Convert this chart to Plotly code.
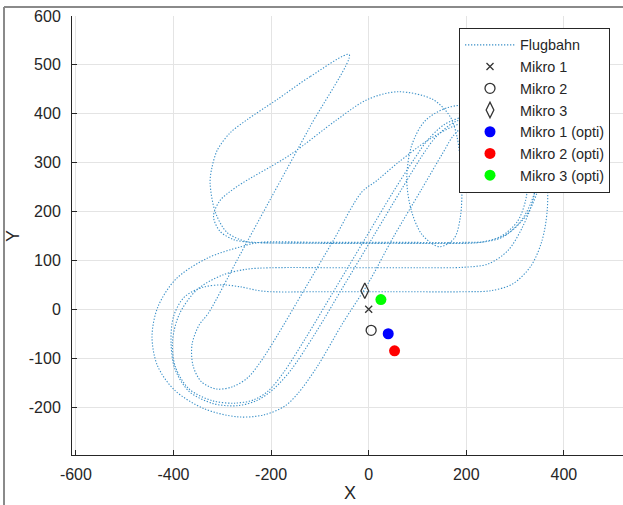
import plotly.graph_objects as go

# ---- data ----
path_pts = [
    # start and upper-left bulge
    (-40, 521), (-120, 476), (-188, 429), (-249, 388), (-284, 361), (-310, 326),
    (-321, 291), (-325, 259), (-314, 198), (-290, 157), (-249, 138), (-222, 136),
    # y~136 eastbound
    (-100, 136), (50, 136), (200, 136), (235, 138),
    # right loop A
    (272, 150), (305, 180), (322, 225), (326, 275), (315, 330), (290, 370),
    (250, 390), (210, 385), (175, 357), (152, 320),
    # diagonal down-left
    (108, 245), (49, 145), (0, 55), (-53, -28), (-106, -118), (-145, -172),
    # outer left loop
    (-172, -198), (-215, -216), (-268, -220), (-338, -203), (-398, -165),
    (-433, -115), (-444, -55), (-432, 5), (-395, 62), (-330, 105), (-262, 128), (-222, 137),
    # y~136 eastbound
    (-100, 137), (50, 137), (200, 137), (240, 139),
    # right loop B
    (285, 155), (325, 195), (348, 250), (350, 300), (335, 345), (300, 378),
    (250, 395), (200, 395), (155, 378), (120, 345),
    # diagonal down-left
    (95, 310), (50, 240), (-10, 140), (-70, 40), (-130, -60), (-175, -130), (-205, -166),
    # middle left loop
    (-235, -185), (-275, -192), (-320, -187), (-368, -163), (-396, -118), (-402, -65),
    (-388, -10), (-352, 40), (-300, 70), (-250, 82), (-200, 85),
    # y~85 eastbound
    (-50, 85), (100, 85), (195, 86),
    # central circle
    (245, 93), (285, 120), (315, 168), (338, 228), (342, 292), (322, 352), (280, 396),
    (220, 418), (160, 412), (115, 385), (88, 335), (78, 265), (88, 200), (110, 152),
    (145, 128), (175, 145), (188, 190),
    # big arc over the top
    (191, 250), (188, 300), (181, 353), (167, 394), (132, 429), (60, 445), (-3, 429),
    (-65, 388), (-161, 316), (-270, 251), (-305, 222), (-318, 190), (-305, 160),
    (-275, 142), (-235, 137),
    # y~136 eastbound
    (-100, 135), (50, 135), (200, 135), (230, 137),
    # right loop C
    (275, 148), (315, 185), (340, 240), (345, 300), (325, 350), (285, 383),
    (235, 395), (180, 385), (140, 355), (110, 315),
    # diagonal down-left
    (70, 250), (10, 150), (-50, 50), (-110, -50), (-160, -125), (-195, -163),
    # middle left loop again
    (-228, -186), (-268, -197), (-318, -193), (-368, -168), (-397, -122), (-405, -70),
    (-400, -15), (-378, 25), (-340, 45), (-300, 50), (-263, 46), (-216, 37),
    # y~36 eastbound
    (-100, 36), (50, 36), (200, 36), (250, 38),
    # outermost right loop
    (295, 52), (332, 88), (355, 140), (366, 205), (364, 275), (345, 340), (300, 382),
    (235, 392), (175, 375), (120, 345), (60, 300), (15, 262),
    # diagonal down-left
    (-14, 240), (-73, 140), (-132, 40), (-190, -58), (-222, -108), (-248, -140),
    # inner left loop
    (-278, -158), (-312, -163), (-343, -148), (-360, -115), (-362, -72), (-348, -33), (-328, -7),
    # straight leg back to start
    (-270, 100), (-200, 228), (-120, 374), (-40, 521),
]
path_x = [p[0] for p in path_pts]
path_y = [p[1] for p in path_pts]

mic_names = ["Mikro 1", "Mikro 2", "Mikro 3"]
mic_x = [0, 5, -8]
mic_y = [0, -43, 38]

opti_names = ["Mikro 1 (opti)", "Mikro 2 (opti)", "Mikro 3 (opti)"]
opti_x = [40, 53, 25]
opti_y = [-50, -85, 20]
opti_colors = ["#0000ff", "#ff0000", "#00ff00"]

x_ticks = [-600, -400, -200, 0, 200, 400, 600]
y_ticks = [-200, -100, 0, 100, 200, 300, 400, 500, 600]

# ---- figure ----
W, H = 623, 505
ML, MR, MT, MB = 72, 0, 16, 50
AX = "#262626"
FONT = "Liberation Sans, Arial, sans-serif"

fig = go.Figure()
fig.add_trace(go.Scatter(
    x=path_x, y=path_y, mode="lines", name="Flugbahn",
    line=dict(color="#3a90c8", width=1.1, dash="1.3px,1.7px", shape="spline", smoothing=0.9),
))
mic_symbols = ["x-thin-open", "circle-open", "diamond-tall-open"]
mic_sizes = [7, 10, 11]
for i in range(3):
    fig.add_trace(go.Scatter(
        x=[mic_x[i]], y=[mic_y[i]], mode="markers", name=mic_names[i],
        marker=dict(symbol=mic_symbols[i], size=mic_sizes[i], color="#333333",
                    line=dict(color="#333333", width=1.3)),
    ))
for i in range(3):
    fig.add_trace(go.Scatter(
        x=[opti_x[i]], y=[opti_y[i]], mode="markers", name=opti_names[i],
        marker=dict(symbol="circle", size=11, color=opti_colors[i]),
    ))

plot_w = W - ML - MR
plot_h = H - MT - MB
x0_px = 368.7 - ML          # pixel of x=0 inside plot
scale = 0.488
x_min = -x0_px / scale
x_max = x_min + plot_w / scale

fig.update_layout(
    width=W, height=H,
    margin=dict(l=ML, r=MR, t=MT, b=MB, pad=0),
    paper_bgcolor="white", plot_bgcolor="white",
    font=dict(family=FONT, size=14, color=AX),
    showlegend=True,
    legend=dict(
        x=(459 - ML) / plot_w, y=(H - MB - 28) / plot_h, xanchor="left", yanchor="top",
        bgcolor="white", bordercolor=AX, borderwidth=1,
        font=dict(family=FONT, size=14.4, color=AX), itemwidth=50,
        tracegroupgap=0,
    ),
    xaxis=dict(
        range=[x_min, x_max], tickvals=x_ticks, ticktext=[str(v) for v in x_ticks],
        showgrid=True, gridcolor="#e4e4e4", gridwidth=1, zeroline=False,
        showline=True, linecolor=AX, linewidth=1, ticks="inside", ticklen=5,
        tickcolor=AX, tickfont=dict(size=16, color=AX), ticklabelstandoff=5,
    ),
    yaxis=dict(
        range=[-298, 600], tickvals=y_ticks, ticktext=[str(v) for v in y_ticks],
        showgrid=True, gridcolor="#e4e4e4", gridwidth=1, zeroline=False,
        showline=True, linecolor=AX, linewidth=1, ticks="inside", ticklen=5,
        tickcolor=AX, tickfont=dict(size=16, color=AX), ticklabelstandoff=7,
    ),
    annotations=[
        dict(text="X", xref="paper", yref="paper", x=(350 - ML) / plot_w,
             y=(H - MB - 493) / plot_h, showarrow=False, font=dict(size=18, color=AX),
             xanchor="center", yanchor="middle"),
        dict(text="Y", xref="paper", yref="paper", x=(13 - ML) / plot_w,
             y=(H - MB - 236) / plot_h, showarrow=False, font=dict(size=18, color=AX),
             xanchor="center", yanchor="middle", textangle=-90),
    ],
    shapes=[
        dict(type="line", xref="paper", yref="paper",
             x0=(4 - ML) / plot_w, x1=1.0, y0=(H - MB - 7) / plot_h, y1=(H - MB - 7) / plot_h,
             line=dict(color="#8a8a8a", width=2)),
        dict(type="line", xref="paper", yref="paper",
             x0=(4 - ML) / plot_w, x1=(4 - ML) / plot_w, y0=(H - MB - 7) / plot_h, y1=-MB / plot_h,
             line=dict(color="#8a8a8a", width=2)),
    ],
)

fig.write_html(
    "out.html",
    config={"displayModeBar": False},
    post_script="document.body.style.margin='0';document.body.style.overflow='hidden';",
)
